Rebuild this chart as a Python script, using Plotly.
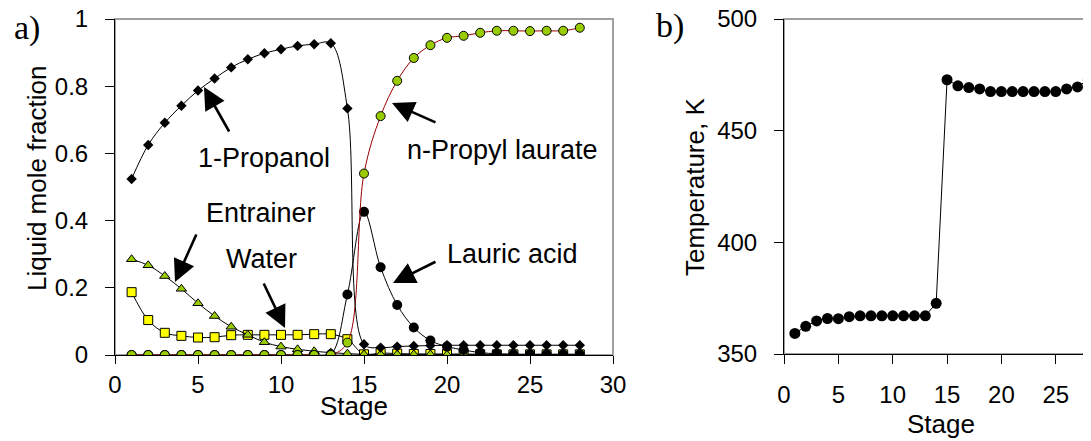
import plotly.graph_objects as go

# ---------------- data ----------------
stages = [1, 2, 3, 4, 5, 6, 7, 8, 9, 10, 11, 12, 13, 14,
          15, 16, 17, 18, 19, 20, 21, 22, 23, 24, 25, 26, 27, 28]

propanol = [0.524, 0.625, 0.691, 0.742, 0.787, 0.823, 0.856, 0.880, 0.898, 0.910,
            0.920, 0.925, 0.928, 0.734, 0.032, 0.022, 0.025, 0.027, 0.028, 0.029,
            0.029, 0.029, 0.029, 0.029, 0.029, 0.029, 0.029, 0.029]

propyl_laurate = [0.0, 0.0, 0.0, 0.0, 0.0, 0.0, 0.0, 0.0, 0.0, 0.0,
                  0.0, 0.0, 0.0, 0.037, 0.540, 0.711, 0.816, 0.884, 0.922, 0.944,
                  0.950, 0.959, 0.965, 0.965, 0.964, 0.965, 0.965, 0.974]

lauric_acid = [0.0, 0.0, 0.0, 0.0, 0.0, 0.0, 0.0, 0.0, 0.0, 0.0,
               0.0, 0.0, 0.002, 0.180, 0.426, 0.261, 0.149, 0.082, 0.043, 0.025,
               0.015, 0.007, 0.004, 0.002, 0.002, 0.002, 0.002, 0.002]

entrainer = [0.285, 0.267, 0.235, 0.197, 0.154, 0.116, 0.084, 0.060, 0.038, 0.025,
             0.017, 0.011, 0.007, 0.004, 0.002, 0.002, 0.002, 0.002, 0.002, 0.001,
             0.001, 0.001, 0.001, 0.001, 0.001, 0.001, 0.001, 0.001]

water = [0.187, 0.104, 0.066, 0.057, 0.052, 0.053, 0.059, 0.060, 0.060, 0.060,
         0.060, 0.062, 0.062, 0.047, 0.002, 0.006, 0.004, 0.003, 0.003, 0.003,
         0.003, 0.002, 0.002, 0.002, 0.002, 0.002, 0.002, 0.002]

temperature = [359.2, 362.4, 364.8, 365.9, 365.8, 366.7, 367.1, 367.1, 367.1, 367.1,
               367.1, 367.1, 367.1, 372.7, 472.8, 470.1, 469.3, 468.7, 467.5, 467.5,
               467.5, 467.5, 467.5, 467.5, 467.5, 468.7, 469.6, 472.8]

x_ticks_a = [0, 5, 10, 15, 20, 25, 30]
y_ticks_a = [0, 0.2, 0.4, 0.6, 0.8, 1]
y_tick_text_a = ["0", "0.2", "0.4", "0.6", "0.8", "1"]
x_ticks_b = [0, 5, 10, 15, 20, 25, 30]
y_ticks_b = [350, 400, 450, 500]

# ---------------- layout helpers (page pixel -> paper) ----------------
OFF = 8                      # default body margin of the html page
W, H = 1091 - OFF, 441 - OFF


def px(x):
    return (x - OFF) / W


def py(y):
    return 1 - (y - OFF) / H


FONT = "Arial, Liberation Sans, sans-serif"
GREEN = "#99cc00"
YELLOW = "#ffff00"
DARKRED = "#990000"
GRAY = "#a0a0a0"

fig = go.Figure()

# panel a traces (order controls overlap)
fig.add_trace(go.Scatter(
    x=stages, y=water, mode="lines+markers", name="Water",
    line=dict(color="black", width=1, shape="spline"),
    marker=dict(symbol="square", size=9, color=YELLOW, line=dict(color="black", width=1)),
    xaxis="x", yaxis="y"))
fig.add_trace(go.Scatter(
    x=stages, y=entrainer, mode="lines+markers", name="Entrainer",
    line=dict(color="black", width=1, shape="spline"),
    marker=dict(symbol="triangle-up", size=9, color=GREEN, line=dict(color="black", width=1)),
    xaxis="x", yaxis="y"))
fig.add_trace(go.Scatter(
    x=stages, y=lauric_acid, mode="lines+markers", name="Lauric acid",
    line=dict(color="black", width=1, shape="spline"),
    marker=dict(symbol="circle", size=10, color="black"),
    xaxis="x", yaxis="y"))
fig.add_trace(go.Scatter(
    x=stages, y=propyl_laurate, mode="lines+markers", name="n-Propyl laurate",
    line=dict(color=DARKRED, width=1, shape="spline"),
    marker=dict(symbol="circle", size=9, color=GREEN, line=dict(color="black", width=1)),
    xaxis="x", yaxis="y"))
fig.add_trace(go.Scatter(
    x=stages, y=propanol, mode="lines+markers", name="1-Propanol",
    line=dict(color="black", width=1, shape="spline"),
    marker=dict(symbol="diamond", size=8, color="black"),
    xaxis="x", yaxis="y"))

# panel b
fig.add_trace(go.Scatter(
    x=stages, y=temperature, mode="lines+markers", name="Temperature",
    line=dict(color="black", width=1),
    marker=dict(symbol="circle", size=11, color="black"),
    xaxis="x2", yaxis="y2"))

tickfont = dict(family=FONT, size=24, color="black")
common = dict(showgrid=False, zeroline=False, showline=True, linecolor="black", linewidth=1,
              ticks="outside", tickcolor="black", tickfont=tickfont, automargin=False,
              ticklabeloverflow="allow", layer="above traces")

fig.update_layout(
    width=W, height=H,
    margin=dict(l=0, r=0, t=0, b=0, autoexpand=False),
    paper_bgcolor="white", plot_bgcolor="white",
    showlegend=False,
    font=dict(family=FONT, color="black"),
    xaxis=dict(domain=[px(115), px(613)], range=[0, 30], tickvals=x_ticks_a,
               ticklen=8, ticklabelstandoff=0, anchor="y", **common),
    yaxis=dict(domain=[py(355), py(19)], range=[0, 1], tickvals=y_ticks_a, ticktext=y_tick_text_a,
               ticklen=9, ticklabelstandoff=12, anchor="x", **common),
    xaxis2=dict(domain=[px(784), 1.0], range=[0, (1091 - 784) / 10.87], tickvals=x_ticks_b,
                ticklen=9, ticklabelstandoff=10, anchor="y2", **common),
    yaxis2=dict(domain=[py(354), py(19)], range=[350, 500], tickvals=y_ticks_b,
                ticklen=9, ticklabelstandoff=12, anchor="x2", **common),
)

# gray plot-area frames (visible on top and right)
shapes = [
    dict(type="rect", xref="x domain", yref="y domain", x0=0, x1=1, y0=0, y1=1,
         line=dict(color=GRAY, width=2), fillcolor="rgba(0,0,0,0)", layer="below"),
    dict(type="rect", xref="x2 domain", yref="y2 domain", x0=0, x1=1.2, y0=0, y1=1,
         line=dict(color=GRAY, width=2), fillcolor="rgba(0,0,0,0)", layer="below"),
]
fig.update_layout(shapes=shapes)

ann = []


def text_ann(x, y, text, size=26, family=FONT, angle=0):
    ann.append(dict(xref="paper", yref="paper", x=px(x), y=py(y), text=text,
                    showarrow=False, xanchor="center", yanchor="middle", textangle=angle,
                    font=dict(family=family, size=size, color="black")))


# axis titles
text_ann(354, 406, "Stage")
text_ann(37, 179, "Liquid mole fraction", angle=-90)
text_ann(941, 424, "Stage")
text_ann(695, 187, "Temperature, K", angle=-90)
# panel letters
text_ann(27, 28, "a)", size=34, family="Times New Roman, Liberation Serif, serif")
text_ann(670, 26, "b)", size=34, family="Times New Roman, Liberation Serif, serif")
# series labels
text_ann(264, 158, "1-Propanol", size=27)
text_ann(502, 150, "n-Propyl laurate", size=27)
text_ann(261, 213, "Entrainer", size=27)
text_ann(261, 259, "Water", size=27)
text_ann(512, 254, "Lauric acid", size=27)


def arrow(tip, tail):
    # tip/tail in page pixels; tip converted to panel-a data coords, tail as pixel offset
    xd = (tip[0] - 115) / 16.6
    yd = (355 - tip[1]) / 336.0
    ann.append(dict(xref="x", yref="y", x=xd, y=yd, ax=tail[0] - tip[0], ay=tail[1] - tip[1],
                    axref="pixel", ayref="pixel", text="", showarrow=True,
                    arrowhead=2, arrowsize=1.7, arrowwidth=2.6, arrowcolor="black"))


arrow((204, 87), (230, 133))
arrow((392, 103), (437, 123))
arrow((175, 282), (197, 233))
arrow((285, 328), (263, 282))
arrow((393, 283), (437, 261))

fig.update_layout(annotations=ann)

fig.write_html("out.html")
